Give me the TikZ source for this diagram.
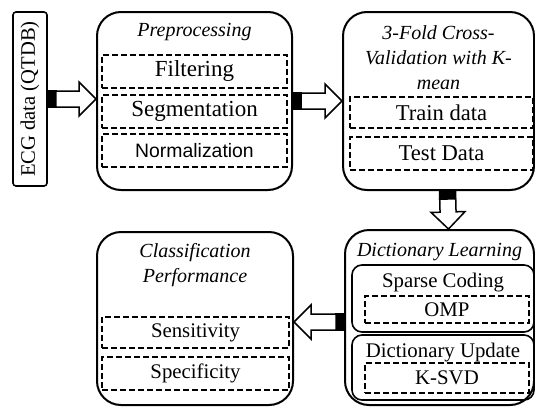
\documentclass[tikz,border=0pt]{standalone}
\usepackage{fontspec}
\setmainfont{Liberation Serif}
\setsansfont{Liberation Sans}
\usetikzlibrary{calc}
\newcommand{\bigtxt}{\fontsize{11.5}{13}\selectfont}
\newcommand{\midtxt}{\fontsize{10.4}{12.5}\selectfont}
\newcommand{\fatarrow}[2]{%
  \coordinate (fa-s) at (#1);
  \coordinate (fa-t) at (#2);
  \coordinate (fa-b) at ($(fa-s)!4pt!(fa-t)$);
  \coordinate (fa-h) at ($(fa-t)!8.5pt!(fa-s)$);
  \filldraw[fatline, fill=black] ($(fa-s)!4pt!90:(fa-t)$) -- ($(fa-b)!4pt!90:(fa-t)$)
    -- ($(fa-b)!4pt!-90:(fa-t)$) -- ($(fa-s)!4pt!-90:(fa-t)$) -- cycle;
  \draw[fatline, fill=white] ($(fa-b)!4pt!90:(fa-t)$) -- ($(fa-h)!4pt!90:(fa-t)$)
    -- ($(fa-h)!8.5pt!90:(fa-t)$) -- (fa-t) -- ($(fa-h)!8.5pt!-90:(fa-t)$)
    -- ($(fa-h)!4pt!-90:(fa-t)$) -- ($(fa-b)!4pt!-90:(fa-t)$) -- cycle;
}

\begin{document}
\begin{tikzpicture}[x=0.5pt,y=-0.5pt,
    stagebox/.style={draw,line width=1pt,rounded corners=12pt,inner sep=0pt},
    partbox/.style={draw,line width=0.8pt,rounded corners=5pt,inner sep=0pt},
    itembox/.style={draw,line width=0.7pt,dash pattern=on 3pt off 1.5pt,inner sep=0pt,font=\midtxt},
    titletxt/.style={align=center,font=\fontsize{10}{12.5}\selectfont\itshape},
    plaintxt/.style={font=\midtxt},
    fatline/.style={line width=0.75pt,line join=miter}]
  \useasboundingbox (0,0) rectangle (535,407);

  % input
  \node[draw,line width=0.8pt,rounded corners=1.5pt,inner sep=0pt,minimum width=17pt,minimum height=87pt,
        font=\fontsize{10.3}{12}\selectfont] (ecg) at (30,99) {\rotatebox{90}{ECG data (QTDB)}};

  % preprocessing
  \node[stagebox,minimum width=97.5pt,minimum height=89pt] (pre) at (194.5,101) {};
  \node[titletxt] (pretitle) at (194.5,32) {Preprocessing};
  \node[itembox,minimum width=92.5pt,minimum height=16.5pt,font=\bigtxt] (filt) at (194.5,71.5) {Filtering};
  \node[itembox,minimum width=92.5pt,minimum height=16.5pt,font=\bigtxt] (seg) at (194.5,111.5) {Segmentation};
  \node[itembox,minimum width=92.5pt,minimum height=16.5pt,font=\sffamily\fontsize{9.7}{12}\selectfont] (norm) at (194.5,150.5) {Normalization};

  % cross-validation
  \node[stagebox,minimum width=95.5pt,minimum height=89pt] (cv) at (438.5,101) {};
  \node[titletxt] (cvtitle) at (438.5,58) {3-Fold Cross-\\Validation with K-\\mean};
  \node[itembox,minimum width=91.5pt,minimum height=15.5pt,font=\fontsize{11.3}{13}\selectfont] (train) at (441.5,112.5) {Train data};
  \node[itembox,minimum width=91.5pt,minimum height=16.5pt,font=\fontsize{11.3}{13}\selectfont] (test) at (441.5,153.5) {Test Data};

  % dictionary learning
  \node[stagebox,minimum width=94.5pt,minimum height=87.5pt] (dl) at (439.5,317.5) {};
  \node[titletxt] (dltitle) at (439.5,252) {Dictionary Learning};
  \node[partbox,minimum width=91pt,minimum height=33.5pt] (sc) at (443,298.5) {};
  \node[plaintxt] (sctxt) at (443,283) {Sparse Coding};
  \node[itembox,minimum width=82pt,minimum height=13.5pt] (omp) at (447,309.5) {OMP};
  \node[partbox,minimum width=91pt,minimum height=32.5pt] (du) at (443,367.5) {};
  \node[plaintxt] (dutxt) at (443,353) {Dictionary Update};
  \node[itembox,minimum width=82pt,minimum height=15pt] (ksvd) at (447,378) {K-SVD};

  % classification
  \node[stagebox,minimum width=98pt,minimum height=86.5pt] (cp) at (195,318.5) {};
  \node[titletxt] (cptitle) at (195,265.5) {Classification\\Performance};
  \node[itembox,minimum width=93.5pt,minimum height=15.5pt] (sens) at (195.5,332.5) {Sensitivity};
  \node[itembox,minimum width=93.5pt,minimum height=16.5pt] (spec) at (195.5,373.5) {Specificity};

  % block arrows
  \fatarrow{ecg.east}{ecg.east -| pre.west}
  \fatarrow{pre.east}{pre.east -| cv.west}
  \fatarrow{$(cv.south)+(4.5pt,0)$}{$(dl.north)+(4.5pt,0)$}
  \fatarrow{$(dl.west)+(0,-2.25pt)$}{$(cp.east)+(0,-1.75pt)$}
\end{tikzpicture}
\end{document}
